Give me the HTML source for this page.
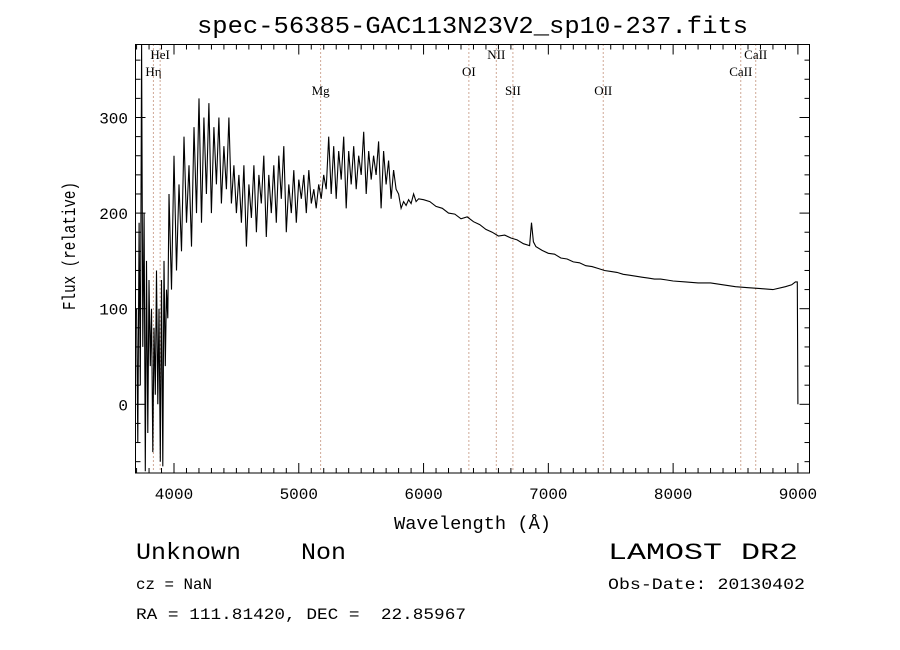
<!DOCTYPE html>
<html><head><meta charset="utf-8"><style>
html,body{margin:0;padding:0;background:#fff;}
svg{display:block;}
.t{font-family:"Liberation Mono",monospace;fill:#000;white-space:pre;}
.s{font-family:"Liberation Serif",serif;fill:#000;font-size:13px;}
</style></head><body>
<svg id="chart" width="900" height="650" viewBox="0 0 900 650" xmlns="http://www.w3.org/2000/svg" xml:space="preserve">
<rect width="900" height="650" fill="#fff"/>
<text class="t" x="197" y="33" font-size="24" textLength="551" lengthAdjust="spacingAndGlyphs">spec-56385-GAC113N23V2_sp10-237.fits</text>
<g id="ticks"></g>
<g id="lines"></g>
<path id="spec" fill="none" stroke="#000" stroke-width="1.1"/>
<rect x="135.5" y="44.5" width="674" height="428.5" fill="none" stroke="#000" stroke-width="1"/>
<text class="t" x="394" y="529" font-size="18" textLength="157" lengthAdjust="spacingAndGlyphs">Wavelength (Å)</text>
<text class="t" transform="translate(75,310) rotate(-90)" font-size="18" textLength="128" lengthAdjust="spacingAndGlyphs">Flux (relative)</text>
<text class="t" x="136" y="559" font-size="23" textLength="210" lengthAdjust="spacingAndGlyphs" xml:space="preserve">Unknown    Non</text>
<text class="t" x="608" y="559" font-size="23" textLength="190" lengthAdjust="spacingAndGlyphs">LAMOST DR2</text>
<text class="t" x="136" y="589" font-size="16" textLength="76" lengthAdjust="spacingAndGlyphs">cz = NaN</text>
<text class="t" x="608" y="589" font-size="16" textLength="197" lengthAdjust="spacingAndGlyphs">Obs-Date: 20130402</text>
<text class="t" x="136" y="619" font-size="16" textLength="330" lengthAdjust="spacingAndGlyphs" xml:space="preserve">RA = 111.81420, DEC =  22.85967</text>
</svg>
<script>
const wavelengths = [3700,3710,3720,3730,3740,3750,3760,3770,3780,3790,3800,3810,3820,3830,3840,3850,3860,3870,3880,3890,3900,3910,3920,3930,3940,3950,
3960,3980,4000,4020,4040,4060,4080,4100,4120,4140,4160,4180,4200,4220,4240,4260,4280,4300,4320,4340,4360,4380,4400,4420,4440,4460,4480,4500,4520,4540,4560,4580,4600,4620,4640,4660,4680,4700,4720,4740,4760,4780,4800,4820,4840,4860,4880,4900,4920,4940,4960,4980,5000,5020,5040,5060,5080,5100,5120,5140,5160,5180,5200,5220,5240,5260,5280,5300,5320,5340,5360,5380,5400,5420,5440,5460,5480,5500,5520,5540,5560,5580,5600,5620,5640,5660,5680,5700,5720,5740,5760,5780,5800,5820,5840,5860,5880,5900,5920,5940,5960,
6000,6050,6100,6150,6200,6250,6300,6350,6400,6450,6500,6550,6600,6650,6700,6750,6800,6850,6865,6880,6900,6950,7000,7050,7100,7150,7200,7250,7300,7350,7400,7450,7500,7550,7600,7650,7700,7750,7800,7850,7900,7950,8000,8100,8200,8300,8400,8500,8600,8700,8800,8900,8950,8980,8995,9000];
const fluxValues = [100,-40,190,20,376,60,200,-70,150,-30,130,40,100,-50,80,10,140,0,100,-60,130,-65,150,40,120,90,
220,120,260,140,230,160,280,190,250,165,290,200,320,190,300,220,315,200,290,230,300,210,270,225,300,210,250,200,240,190,250,165,230,195,250,180,240,210,260,175,240,200,250,190,260,215,270,180,230,200,245,190,235,215,240,200,245,210,225,205,230,215,240,225,280,220,270,215,265,235,280,205,265,230,270,225,260,240,285,220,265,235,260,240,275,205,265,230,255,215,245,225,220,205,212,208,214,210,220,212,215,
214,212,207,205,200,199,194,196,191,188,183,180,176,177,174,172,168,166,190,170,165,161,158,157,153,152,149,148,145,144,142,140,139,138,136,135,134,133,132,131,131,130,129,128,127,127,125,123,122,121,120,123,125,128,128,0];
const xTickLabels = ["4000","5000","6000","7000","8000","9000"];
const yTickLabels = ["0","100","200","300"];
const lineNames = ["Hη","HeI","Mg","OI","NII","SII","OII","CaII","CaII"];
const lineWaves = [3835,3889,5175,6363,6583,6716,7440,8542,8662];

const L=135.5,R=809.5,T=44.5,B=473;
const xs = w => 174 + (w-4000)*0.12478;
const ys = f => 404.3 - f*0.956;
const NS="http://www.w3.org/2000/svg";
function mk(tag, attrs, parent){const e=document.createElementNS(NS,tag);for(const k in attrs)e.setAttribute(k,attrs[k]);parent.appendChild(e);return e;}

let d="";
for(let i=0;i<wavelengths.length;i++){
  let f=Math.max(-72,Math.min(376,fluxValues[i]));
  d+=(i?"L":"M")+xs(wavelengths[i]).toFixed(1)+" "+ys(f).toFixed(1);
}
document.getElementById('spec').setAttribute('d',d);

const tg=document.getElementById('ticks');
for(let w=3700;w<=9100;w+=100){
  const x=xs(w); if(x<L||x>R) continue;
  const major = w%1000===0;
  const len = major?10:5;
  const t1=mk('line',{x1:x,x2:x,y1:B,y2:B-len,stroke:'#000'},tg);
  
  
  const t2=mk('line',{x1:x,x2:x,y1:T,y2:T+len,stroke:'#000'},tg);
  
  
}
xTickLabels.forEach(s=>{
  const t=mk('text',{x:xs(+s),y:499,'text-anchor':'middle','class':'t','font-size':'16'},tg);
  t.textContent=s;
  
  
});
for(let f=-60;f<=370;f+=20){
  const y=ys(f); if(y<T||y>B) continue;
  const major=f%100===0; const len=major?10:5;
  const a=mk('line',{x1:L,x2:L+len,y1:y,y2:y,stroke:'#000'},tg);
  
  
  const b=mk('line',{x1:R,x2:R-len,y1:y,y2:y,stroke:'#000'},tg);
  
  
}
yTickLabels.forEach(s=>{
  const t=mk('text',{x:128,y:ys(+s)+6,'text-anchor':'end','class':'t','font-size':'16'},tg);
  t.textContent=s;
  
  
});

const lg=document.getElementById('lines');
const labelY=[76,59,95,76,59,95,95,76,59];
lineWaves.forEach((w,i)=>{
  const x=xs(w);
  const l=mk('line',{x1:x,x2:x,y1:T,y2:B,stroke:'#a0522d','stroke-width':'1','stroke-dasharray':'1 3'},lg);
  
  
  const t=mk('text',{x:x,y:labelY[i],'text-anchor':'middle','class':'s'},lg);
  t.textContent=lineNames[i];
  
  
});
</script>
</body></html>
